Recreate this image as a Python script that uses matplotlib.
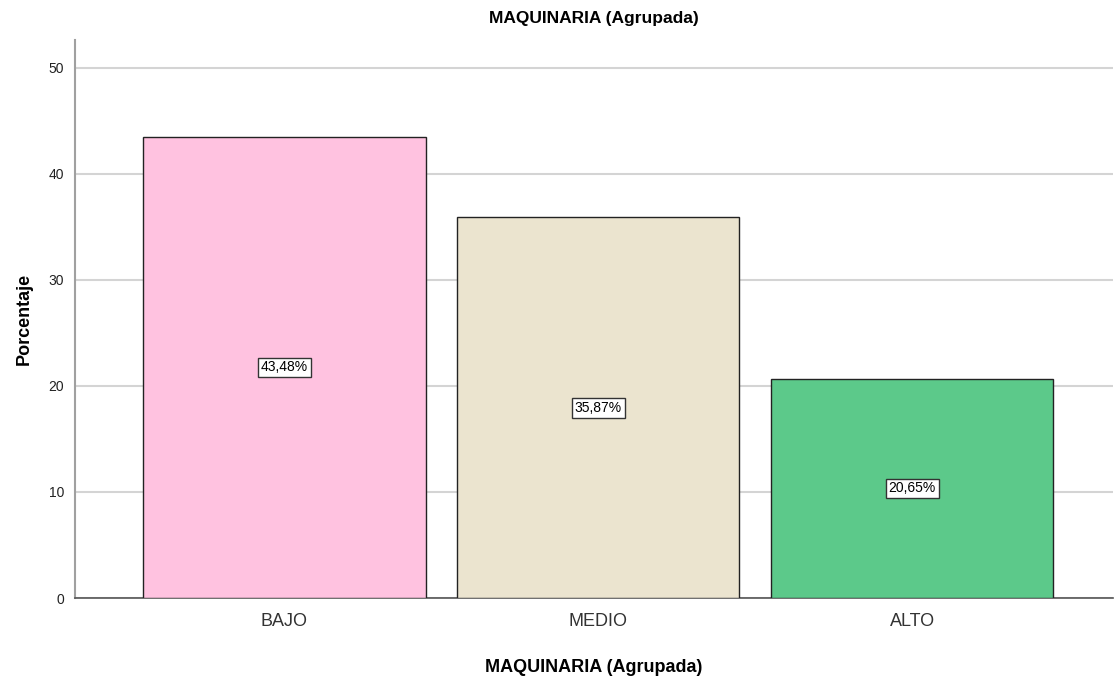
import matplotlib
matplotlib.use('Agg')
import matplotlib.pyplot as plt

categories = ['BAJO', 'MEDIO', 'ALTO']
percentages = [43.48, 35.87, 20.65]
bar_colors = ['#FFC2E0', '#EBE4CF', '#5CC98A']
value_labels = ['43,48%', '35,87%', '20,65%']
y_ticks = [0, 10, 20, 30, 40, 50]

plt.rcParams['font.family'] = ['Liberation Sans', 'DejaVu Sans']

fig = plt.figure(figsize=(11.15, 6.79), dpi=100)
ax = fig.add_axes([75 / 1115, 1 - 598 / 679, 1038 / 1115, 558 / 679])

x = list(range(len(categories)))
ax.bar(x, percentages, width=0.9, color=bar_colors, edgecolor='#222222',
       linewidth=1.0, zorder=3)

for xi, val, lab in zip(x, percentages, value_labels):
    ax.text(xi, val / 2, lab, ha='center', va='center', fontsize=10,
            color='black', zorder=4,
            bbox=dict(boxstyle='square,pad=0.2', facecolor='white',
                      edgecolor='#333333', linewidth=1.0))

ax.set_xlim(-0.667, 2.64)
ax.set_ylim(0, 52.6)
ax.set_yticks(y_ticks)
ax.set_xticks(x)
ax.set_xticklabels(categories, fontsize=13, color='#333333')
ax.tick_params(axis='y', labelsize=10, length=0, pad=8, colors='#222222')
ax.tick_params(axis='x', length=0, pad=11)

ax.yaxis.grid(True, color='#D4D4D4', linewidth=1.5, zorder=0)
ax.set_axisbelow(True)

for side in ['top', 'right']:
    ax.spines[side].set_visible(False)
ax.spines['left'].set_color('#A0A0A0')
ax.spines['left'].set_linewidth(1.5)
ax.spines['bottom'].set_color('#555555')
ax.spines['bottom'].set_linewidth(1.2)

ax.set_ylabel('Porcentaje', fontsize=13, fontweight='bold', labelpad=11)
ax.set_xlabel('MAQUINARIA (Agrupada)', fontsize=13, fontweight='bold', labelpad=21)
fig.text(0.5 * (75 + 1113) / 1115, 1 - 19 / 679, 'MAQUINARIA (Agrupada)',
         ha='center', va='center', fontsize=12.5, fontweight='bold')

fig.savefig('out.png', dpi=100)
